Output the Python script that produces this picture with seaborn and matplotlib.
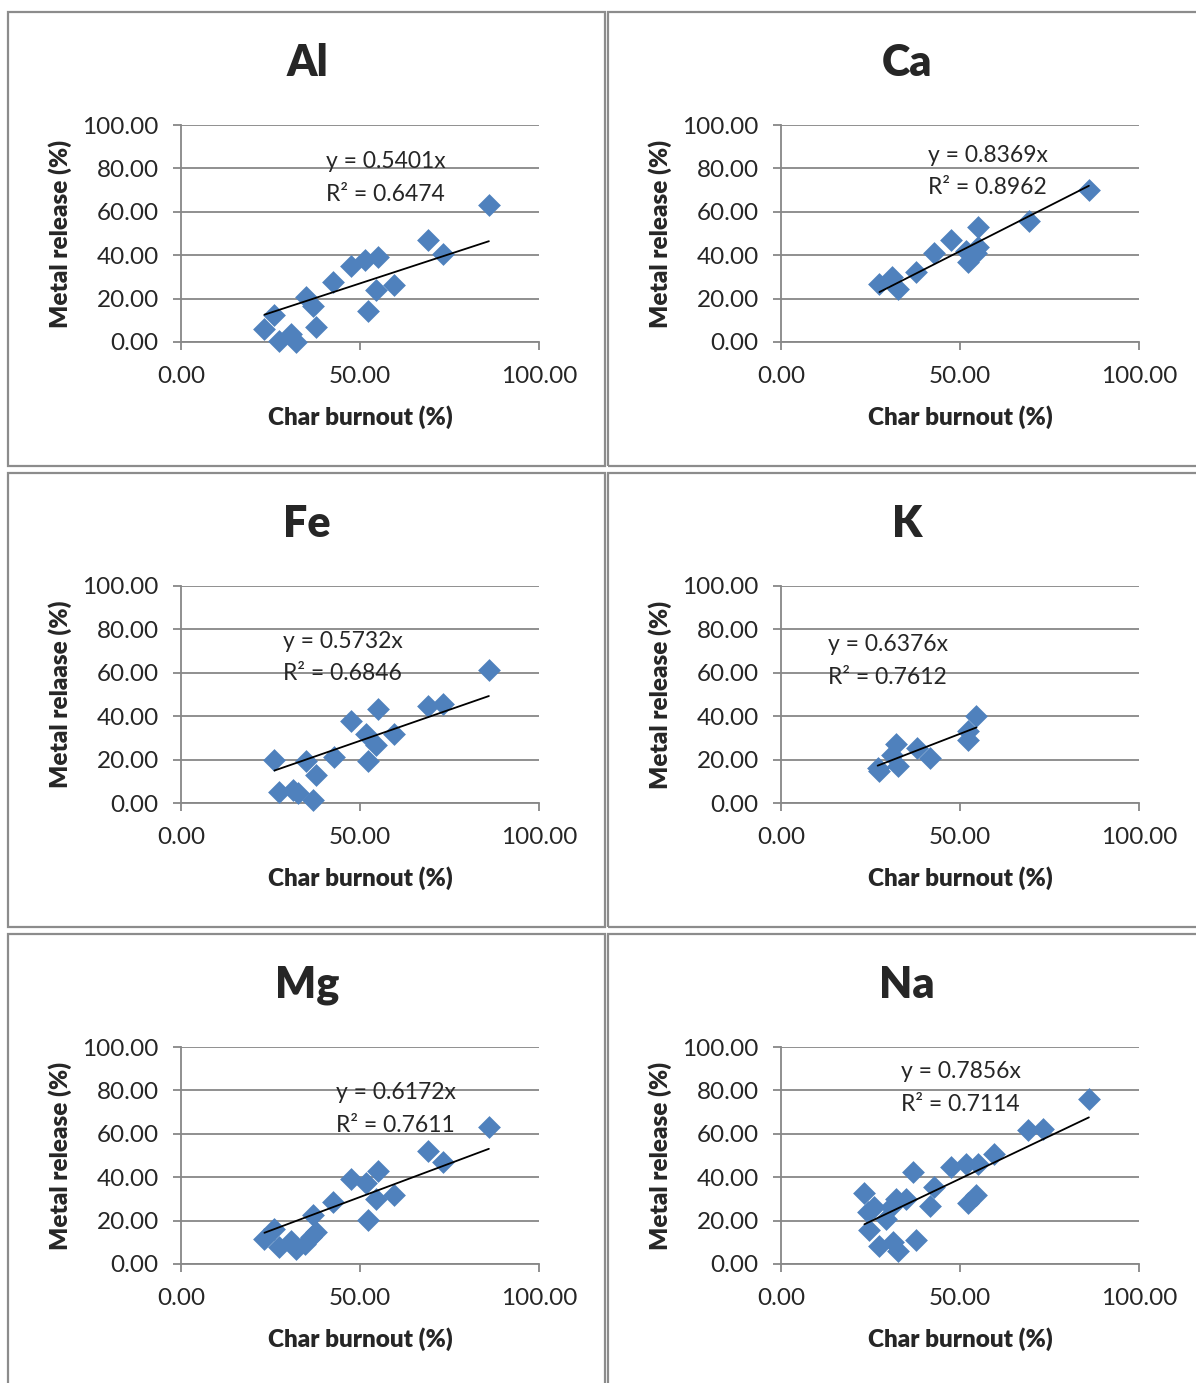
import numpy as np
import pandas as pd
import seaborn as sns
import matplotlib.pyplot as plt
from matplotlib.patches import Rectangle

# values (char burnout %, metal release %)
al_x = [23.3, 26.1, 27.3, 30.8, 32.2, 34.8, 36.8, 37.8, 42.4, 47.6, 51.3, 52.2, 55.0, 54.6, 59.5, 69.0, 73.2, 86.0]
al_y = [6.2, 12.3, 0.5, 3.5, 0.0, 20.8, 16.5, 6.9, 27.7, 34.9, 37.7, 14.3, 39.2, 23.8, 26.2, 47.2, 40.5, 63.1]

ca_x = [27.5, 31.1, 32.6, 37.8, 42.7, 47.6, 51.6, 52.2, 54.6, 55.0, 55.0, 69.3, 86.0]
ca_y = [26.6, 30.0, 24.6, 32.3, 41.1, 47.2, 42.0, 36.9, 41.0, 43.8, 52.8, 55.8, 70.0]

fe_x = [26.1, 27.3, 31.3, 32.6, 34.8, 37.8, 36.8, 42.7, 47.6, 51.6, 52.2, 54.6, 55.0, 59.5, 69.0, 73.2, 86.0]
fe_y = [20.0, 5.1, 6.2, 4.6, 19.2, 13.1, 1.5, 21.1, 37.7, 32.0, 19.2, 26.9, 43.1, 32.0, 44.6, 45.4, 61.5]

k_x = [27.5, 27.0, 31.1, 32.2, 32.6, 38.1, 41.5, 52.2, 52.2, 54.6]
k_y = [14.9, 16.2, 22.3, 27.2, 16.9, 25.4, 20.8, 29.2, 33.4, 40.0]

mg_x = [23.3, 26.0, 27.3, 30.8, 32.2, 34.5, 36.8, 37.8, 36.4, 42.4, 47.6, 51.6, 52.2, 54.6, 55.0, 59.5, 69.0, 73.2, 86.0]
mg_y = [11.5, 16.1, 7.7, 10.4, 6.9, 9.2, 22.7, 14.6, 12.3, 28.4, 39.1, 37.1, 20.2, 29.9, 42.9, 31.9, 52.1, 47.1, 63.2]

na_x = [23.3, 24.3, 24.7, 26.1, 27.5, 29.4, 30.8, 31.3, 32.6, 32.2, 35.0, 36.8, 37.8, 41.5, 42.7,
        47.6, 51.6, 52.2, 54.6, 55.0, 59.5, 69.0, 73.2, 86.0]
na_y = [32.5, 23.8, 15.7, 26.2, 8.4, 20.9, 26.2, 10.0, 6.1, 29.9, 29.9, 42.6, 11.0, 26.8, 35.3,
        44.5, 46.0, 28.1, 31.6, 46.3, 50.6, 61.7, 62.1, 75.9]

elements = ["Al", "Ca", "Fe", "K", "Mg", "Na"]
slopes = [0.5401, 0.8369, 0.5732, 0.6376, 0.6172, 0.7856]
r2 = [0.6474, 0.8962, 0.6846, 0.7612, 0.7611, 0.7114]
ylabels = ["Metal release (%)", "Metal release (%)", "Metal relaase (%)",
           "Metal release (%)", "Metal release (%)", "Metal release (%)"]
xs = [al_x, ca_x, fe_x, k_x, mg_x, na_x]
ys = [al_y, ca_y, fe_y, k_y, mg_y, na_y]

# where the equation text sits, in axes fractions
eq_pos = [(0.405, 0.83), (0.411, 0.86), (0.285, 0.745), (0.131, 0.73), (0.433, 0.79), (0.335, 0.885)]

W, H = 1196, 1383
sns.set_style("white")
plt.rcParams['font.family'] = ['Lato', 'DejaVu Sans']

blue = "#4F81BD"
grey = "#878787"

fig = plt.figure(figsize=(W / 100, H / 100), dpi=100)

for i, el in enumerate(elements):
    col, row = i % 2, i // 2
    dx = 600 * col
    dy = 461 * row

    # chart-area border
    fig.add_artist(Rectangle(((8 + dx) / W, 1 - (466 + dy) / H), 597 / W, 454 / H,
                             transform=fig.transFigure, fill=False,
                             edgecolor="#8c8c8c", lw=1.6))
    fig.text((307 + dx) / W, 1 - (63 + dy) / H, el, ha="center", va="center",
             fontsize=31, fontweight="heavy")

    left, right, top, bottom = 181 + dx, 539 + dx, 125 + dy, 342 + dy
    ax = fig.add_axes([left / W, 1 - bottom / H, (right - left) / W, (bottom - top) / H])

    df = pd.DataFrame({"burnout": xs[i], "release": ys[i]})
    sns.scatterplot(data=df, x="burnout", y="release", ax=ax, marker="D", s=135,
                    color=blue, edgecolor=blue, linewidth=0, zorder=3, clip_on=False)

    xmin, xmax = df["burnout"].min(), df["burnout"].max()
    fit = pd.DataFrame({"x": [xmin, xmax], "y": [slopes[i] * xmin, slopes[i] * xmax]})
    sns.lineplot(data=fit, x="x", y="y", ax=ax, color="black", lw=1.3, zorder=4)

    ax.set_xlim(0, 100)
    ax.set_ylim(0, 100)
    ax.set_xticks([0, 50, 100])
    ax.set_yticks(np.arange(0, 101, 20))
    ax.set_xticklabels([f"{v:.2f}" for v in [0, 50, 100]])
    ax.set_yticklabels([f"{v:.2f}" for v in np.arange(0, 101, 20)])
    ax.grid(axis="y", color=grey, lw=1.3)
    ax.set_axisbelow(True)
    for s in ["top", "right"]:
        ax.spines[s].set_visible(False)
    for s in ["left", "bottom"]:
        ax.spines[s].set_color(grey)
        ax.spines[s].set_linewidth(1.3)
    ax.tick_params(axis="y", direction="out", length=6, width=1.3, color=grey,
                   labelsize=17.5, pad=10, left=True)
    ax.tick_params(axis="x", direction="out", length=5.5, width=1.3, color=grey,
                   labelsize=17.5, pad=12, bottom=True)

    ax.set_xlabel("Char burnout (%)", fontsize=17.5, fontweight="heavy")
    ax.set_ylabel(ylabels[i], fontsize=17.5, fontweight="heavy")
    ax.xaxis.label.set_va("center")
    ax.yaxis.label.set_va("center")
    ax.xaxis.set_label_coords(0.5, (342 - 417) / 217)
    ax.yaxis.set_label_coords((60 - 181) / 358, 0.5)

    ex, ey = eq_pos[i]
    ax.text(ex, ey, f"y = {slopes[i]:.4f}x", transform=ax.transAxes,
            ha="left", va="center", fontsize=16.5)
    ax.text(ex, ey - 0.15, f"R² = {r2[i]:.4f}", transform=ax.transAxes,
            ha="left", va="center", fontsize=16.5)

fig.savefig("out.png", dpi=100)
